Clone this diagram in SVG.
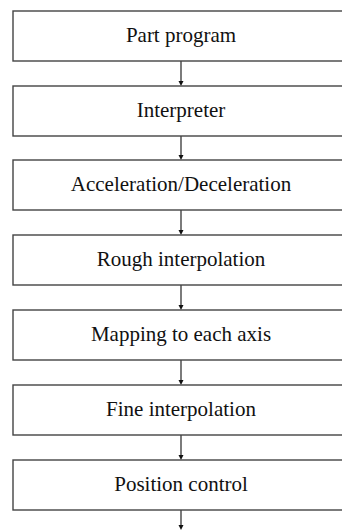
<svg xmlns="http://www.w3.org/2000/svg" width="342" height="531" viewBox="0 0 342 531">
<style>
.box{fill:#fff;stroke:#444;stroke-width:1.4}
.lbl{font-family:"Liberation Serif","Times New Roman",serif;font-size:21px;fill:#111;text-anchor:middle}
.conn{stroke:#444;stroke-width:1.4;fill:none}
.head{fill:#111}
</style>
<rect width="342" height="531" fill="#fff"/>
<g id="connectors">
<line class="conn" x1="181" y1="61" x2="181" y2="82"/><polygon class="head" points="178.5,81 183.5,81 181,86"/>
<line class="conn" x1="181" y1="136" x2="181" y2="156"/><polygon class="head" points="178.5,155 183.5,155 181,160"/>
<line class="conn" x1="181" y1="210" x2="181" y2="231"/><polygon class="head" points="178.5,230 183.5,230 181,235"/>
<line class="conn" x1="181" y1="285" x2="181" y2="306"/><polygon class="head" points="178.5,305 183.5,305 181,310"/>
<line class="conn" x1="181" y1="360" x2="181" y2="381"/><polygon class="head" points="178.5,380 183.5,380 181,385"/>
<line class="conn" x1="181" y1="435" x2="181" y2="456"/><polygon class="head" points="178.5,455 183.5,455 181,460"/>
<line class="conn" x1="181" y1="510" x2="181" y2="526"/><polygon class="head" points="178.5,525 183.5,525 181,530"/>
</g>
<g id="n1"><rect class="box" x="13" y="11" width="340" height="50"/><text class="lbl" x="181" y="42">Part program</text></g>
<g id="n2"><rect class="box" x="13" y="86" width="340" height="50"/><text class="lbl" x="181" y="117">Interpreter</text></g>
<g id="n3"><rect class="box" x="13" y="160" width="340" height="50"/><text class="lbl" x="181" y="191">Acceleration/Deceleration</text></g>
<g id="n4"><rect class="box" x="13" y="235" width="340" height="50"/><text class="lbl" x="181" y="266">Rough interpolation</text></g>
<g id="n5"><rect class="box" x="13" y="310" width="340" height="50"/><text class="lbl" x="181" y="341">Mapping to each axis</text></g>
<g id="n6"><rect class="box" x="13" y="385" width="340" height="50"/><text class="lbl" x="181" y="416">Fine interpolation</text></g>
<g id="n7"><rect class="box" x="13" y="460" width="340" height="50"/><text class="lbl" x="181" y="491">Position control</text></g>
</svg>
